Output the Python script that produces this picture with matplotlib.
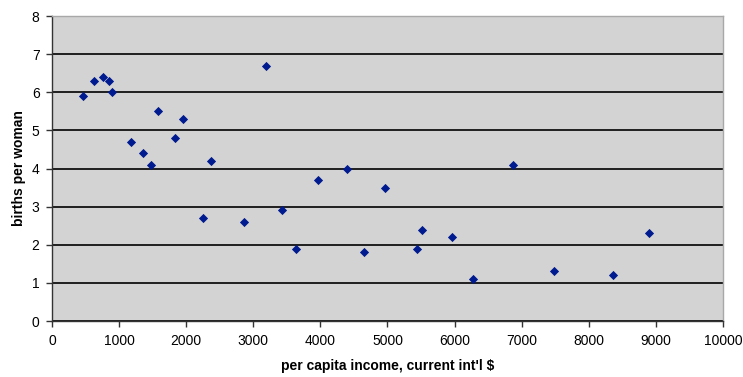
import matplotlib.pyplot as plt

# Income per capita (current int'l $) and fertility (births per woman)
income = [465, 630, 755, 850, 890, 1177, 1360, 1475, 1585, 1833, 1948, 2365,
          2255, 2862, 3190, 3428, 3630, 3958, 4390, 4650, 4958, 5440, 5510,
          5966, 6280, 6875, 7482, 8366, 8893]
births = [5.9, 6.3, 6.4, 6.3, 6.0, 4.7, 4.4, 4.1, 5.5, 4.8, 5.3, 4.2,
          2.7, 2.6, 6.7, 2.9, 1.9, 3.7, 4.0, 1.8, 3.5, 1.9, 2.4,
          2.2, 1.1, 4.1, 1.3, 1.2, 2.3]

plt.rcParams["font.family"] = ["Liberation Sans", "DejaVu Sans"]

fig = plt.figure(figsize=(7.43, 3.77), dpi=100)
ax = fig.add_axes([0.070, 0.1485, 0.903, 0.809])
ax.set_facecolor("#D3D3D3")

ax.scatter(income, births, marker="D", s=22, color="#001A90", zorder=3,
           linewidths=0)

ax.set_xlim(0, 10000)
ax.set_ylim(0, 8)
ax.set_xticks(range(0, 10001, 1000))
ax.set_yticks(range(0, 9))

ax.yaxis.grid(True, color="black", linewidth=1.2)
ax.set_axisbelow(True)

for side in ["left", "bottom"]:
    ax.spines[side].set_color("#333333")
    ax.spines[side].set_linewidth(1.0)
for side in ["top", "right"]:
    ax.spines[side].set_color("#A8A8A8")
    ax.spines[side].set_linewidth(1.0)

ax.tick_params(direction="out", length=4, width=1, color="#333333",
               labelsize=10, pad=5)

ax.set_xlabel("per capita income, current int'l $", fontsize=10,
              fontweight="bold", labelpad=8)
ax.set_ylabel("births per woman", fontsize=10, fontweight="bold", labelpad=4)

fig.savefig("out.png", dpi=100)
